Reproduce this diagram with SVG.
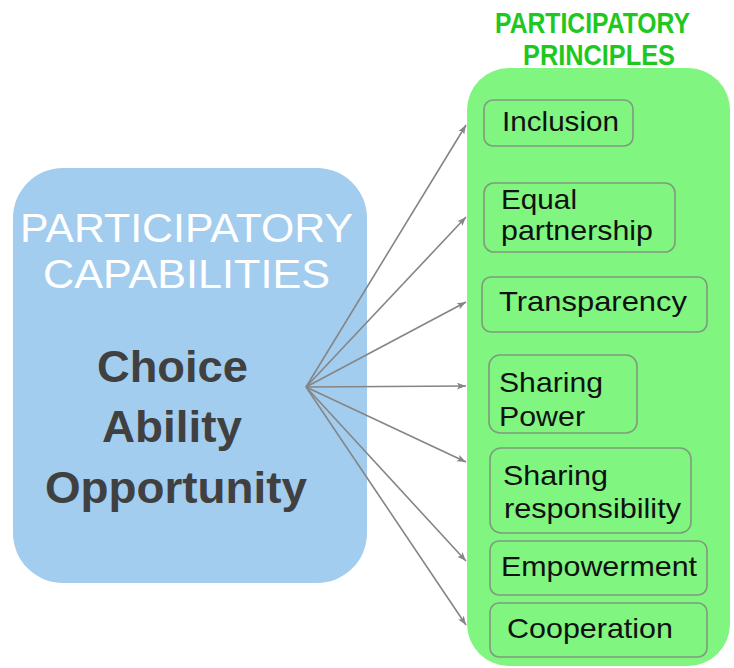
<svg xmlns="http://www.w3.org/2000/svg" width="734" height="668" viewBox="0 0 734 668">
  <defs>
    <marker id="arrow" markerUnits="userSpaceOnUse" markerWidth="10" markerHeight="8" refX="9" refY="4" orient="auto">
      <path d="M0,0.6 L9,4 L0,7.4 L2,4 Z" fill="#858585"/>
    </marker>
    <style>
      .panel-blue { fill: #a3cdef; }
      .panel-green { fill: #80f580; }
      .item { fill: #80f580; stroke: #7f9a7f; stroke-width: 1.6; }
      .cap-title { font-family: "Liberation Sans", Arial, sans-serif; font-size: 41px; fill: #ffffff; }
      .cap-body { font-family: "Liberation Sans", Arial, sans-serif; font-size: 44px; font-weight: bold; fill: #404040; }
      .prin-title { font-family: "Liberation Sans", Arial, sans-serif; font-size: 29px; font-weight: bold; fill: #1ec81e; }
      .label { font-family: "Liberation Sans", Arial, sans-serif; font-size: 28px; fill: #111111; }
      .link { stroke: #858585; stroke-width: 1.6; fill: none; marker-end: url(#arrow); }
    </style>
  </defs>

  <rect width="734" height="668" fill="#ffffff"/>

  <!-- Capabilities panel -->
  <g id="capabilities">
    <rect class="panel-blue" x="13" y="168" width="354" height="415" rx="50" ry="50"/>
    <text class="cap-title" x="20" y="242" textLength="333" lengthAdjust="spacingAndGlyphs">PARTICIPATORY</text>
    <text class="cap-title" x="43" y="288" textLength="287" lengthAdjust="spacingAndGlyphs">CAPABILITIES</text>
    <text class="cap-body" x="97" y="382" textLength="151" lengthAdjust="spacingAndGlyphs">Choice</text>
    <text class="cap-body" x="102" y="442" textLength="140" lengthAdjust="spacingAndGlyphs">Ability</text>
    <text class="cap-body" x="45" y="503" textLength="262" lengthAdjust="spacingAndGlyphs">Opportunity</text>
  </g>

  <!-- Principles panel -->
  <g id="principles">
    <text class="prin-title" x="495" y="33" textLength="195" lengthAdjust="spacingAndGlyphs">PARTICIPATORY</text>
    <text class="prin-title" x="523" y="65" textLength="152" lengthAdjust="spacingAndGlyphs">PRINCIPLES</text>
    <rect class="panel-green" x="467" y="68" width="263" height="598" rx="42" ry="42"/>
  </g>

  <g id="inclusion">
    <rect class="item" x="484" y="100" width="149" height="46" rx="9"/>
    <text class="label" x="502" y="131" textLength="117" lengthAdjust="spacingAndGlyphs">Inclusion</text>
  </g>

  <g id="equal-partnership">
    <rect class="item" x="484" y="183" width="191" height="69" rx="10"/>
    <text class="label" x="501" y="209" textLength="76" lengthAdjust="spacingAndGlyphs">Equal</text>
    <text class="label" x="501" y="240" textLength="152" lengthAdjust="spacingAndGlyphs">partnership</text>
  </g>

  <g id="transparency">
    <rect class="item" x="482" y="277" width="225" height="55" rx="9"/>
    <text class="label" x="499" y="311" textLength="188" lengthAdjust="spacingAndGlyphs">Transparency</text>
  </g>

  <g id="sharing-power">
    <rect class="item" x="489" y="355" width="148" height="78" rx="11"/>
    <text class="label" x="499" y="392" textLength="104" lengthAdjust="spacingAndGlyphs">Sharing</text>
    <text class="label" x="499" y="426" textLength="86" lengthAdjust="spacingAndGlyphs">Power</text>
  </g>

  <g id="sharing-responsibility">
    <rect class="item" x="490" y="448" width="201" height="85" rx="11"/>
    <text class="label" x="503" y="485" textLength="105" lengthAdjust="spacingAndGlyphs">Sharing</text>
    <text class="label" x="504" y="518" textLength="177" lengthAdjust="spacingAndGlyphs">responsibility</text>
  </g>

  <g id="empowerment">
    <rect class="item" x="490" y="541" width="217" height="54" rx="9"/>
    <text class="label" x="501" y="576" textLength="196" lengthAdjust="spacingAndGlyphs">Empowerment</text>
  </g>

  <g id="cooperation">
    <rect class="item" x="490" y="603" width="217" height="54" rx="9"/>
    <text class="label" x="507" y="638" textLength="166" lengthAdjust="spacingAndGlyphs">Cooperation</text>
  </g>

  <!-- Connectors fanning out from the capabilities panel -->
  <g id="connectors">
    <line class="link" x1="306" y1="387" x2="466" y2="125"/>
    <line class="link" x1="306" y1="387" x2="466" y2="217"/>
    <line class="link" x1="306" y1="387" x2="466" y2="302"/>
    <line class="link" x1="306" y1="387" x2="466" y2="386"/>
    <line class="link" x1="306" y1="387" x2="466" y2="462"/>
    <line class="link" x1="306" y1="387" x2="466" y2="561"/>
    <line class="link" x1="306" y1="387" x2="466" y2="625"/>
  </g>
</svg>
